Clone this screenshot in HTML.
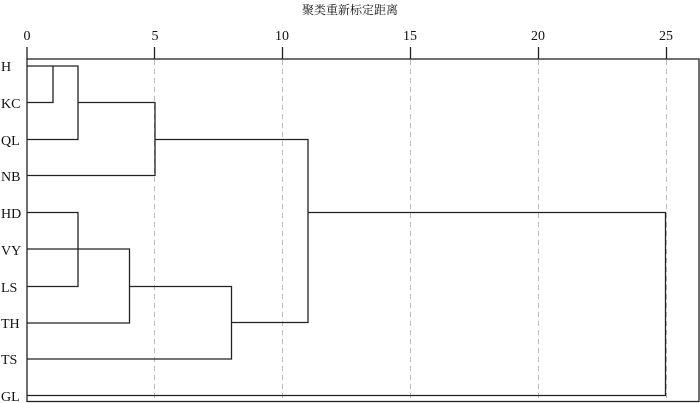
<!DOCTYPE html>
<html><head><meta charset="utf-8"><style>
html,body{margin:0;padding:0;background:#fff;}
</style></head><body>
<svg width="700" height="403" xmlns="http://www.w3.org/2000/svg" style="display:block">
<g font-family="'Liberation Serif', 'Noto Serif CJK SC', serif" font-size="14" fill="#111">
<text x="350" y="14" text-anchor="middle" font-family="'Noto Serif CJK SC', serif" font-size="12">聚类重新标定距离</text>
<text x="27" y="40" text-anchor="middle">0</text>
<text x="155" y="40" text-anchor="middle">5</text>
<text x="282" y="40" text-anchor="middle">10</text>
<text x="410" y="40" text-anchor="middle">15</text>
<text x="538" y="40" text-anchor="middle">20</text>
<text x="666" y="40" text-anchor="middle">25</text>
<text x="1" y="71">H</text>
<text x="1" y="108">KC</text>
<text x="1" y="145">QL</text>
<text x="1" y="181">NB</text>
<text x="1" y="218">HD</text>
<text x="1" y="255">VY</text>
<text x="1" y="292">LS</text>
<text x="1" y="328">TH</text>
<text x="1" y="364">TS</text>
<text x="1" y="401">GL</text>
</g>
<g stroke="#bbb" stroke-width="1" stroke-dasharray="5,4">
<line x1="154.5" y1="60" x2="154.5" y2="402"/>
<line x1="282.5" y1="60" x2="282.5" y2="402"/>
<line x1="410.5" y1="60" x2="410.5" y2="402"/>
<line x1="538.5" y1="60" x2="538.5" y2="402"/>
<line x1="666.5" y1="60" x2="666.5" y2="402"/>
</g>
<g stroke="#222" stroke-width="1.3" fill="none">
<rect x="27" y="59" width="672" height="342.5"/>
<line x1="27" y1="47" x2="27" y2="59"/>
<line x1="154.5" y1="47" x2="154.5" y2="59"/>
<line x1="282.5" y1="47" x2="282.5" y2="59"/>
<line x1="410.5" y1="47" x2="410.5" y2="59"/>
<line x1="538.5" y1="47" x2="538.5" y2="59"/>
<line x1="666.5" y1="47" x2="666.5" y2="59"/>
<path d="M27 66H78V139.5H27"/>
<path d="M53 66V102.5H27"/>
<path d="M78 102.5H155V175.5H27"/>
<path d="M155 139.5H308V322.5H232"/>
<path d="M27 212.5H78V286.5H27"/>
<path d="M27 249H129.5V323H27"/>
<path d="M129.5 286.5H231.5V359H27"/>
<path d="M308 212.5H665.5V395.5H27"/>
</g>
</svg>
</body></html>
